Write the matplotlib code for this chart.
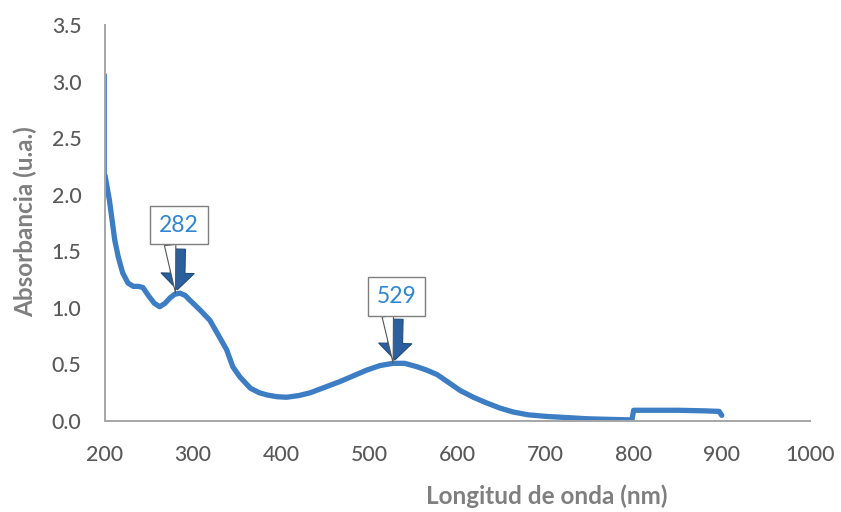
import numpy as np
import matplotlib
matplotlib.use("Agg")
import matplotlib.pyplot as plt

plt.rcParams['font.family'] = ['Lato', 'DejaVu Sans']

# sharp rise at the start of the scan (drawn thin)
spike_nm = [200, 200]
spike_abs = [3.07, 2.17]

# UV-Vis spectrum
wavelength = [200, 205, 211, 215, 220, 226, 232, 238, 243, 250, 256, 262, 268, 274,
              279, 285, 291, 296, 308, 319, 330, 338, 345, 353, 365, 375, 384, 395,
              406, 420, 433, 450, 467, 482, 497, 512, 527, 540, 554, 565, 577, 590,
              603, 618, 633, 648, 663, 680, 702, 725, 747, 770, 798, 800, 803, 850,
              880, 897, 900]
absorbance = [2.17, 1.95, 1.60, 1.45, 1.31, 1.22, 1.19, 1.19, 1.18, 1.10, 1.04, 1.01,
              1.04, 1.09, 1.12, 1.13, 1.11, 1.07, 0.98, 0.89, 0.74, 0.63, 0.48, 0.39,
              0.29, 0.25, 0.23, 0.215, 0.21, 0.225, 0.25, 0.30, 0.35, 0.40, 0.45, 0.49,
              0.51, 0.51, 0.48, 0.45, 0.41, 0.34, 0.27, 0.21, 0.16, 0.115, 0.08, 0.055,
              0.04, 0.03, 0.02, 0.015, 0.01, 0.095, 0.095, 0.095, 0.09, 0.085, 0.05]

# labelled peaks
peak_nm = [282, 529]
peak_abs = [1.15, 0.53]

xticks = [200, 300, 400, 500, 600, 700, 800, 900, 1000]
yticks = [0.0, 0.5, 1.0, 1.5, 2.0, 2.5, 3.0, 3.5]

line_col = '#3C7DC4'
grey = '#595959'

fig = plt.figure(figsize=(8.41, 5.12), dpi=100)
ax = fig.add_axes([0.1249, 0.1777, 0.8381, 0.7734])

ax.plot(spike_nm, spike_abs, color=line_col, lw=2.0, solid_capstyle='round')
ax.plot(wavelength, absorbance, color=line_col, lw=3.8,
        solid_capstyle='round', solid_joinstyle='round')

ax.set_xlim(200, 1000)
ax.set_ylim(0, 3.5)
ax.set_xticks(xticks)
ax.set_yticks(yticks)
ax.set_yticklabels([f'{v:.1f}' for v in yticks])
ax.tick_params(length=0, labelsize=15.3, labelcolor=grey, pad=17)
for lab in ax.get_xticklabels() + ax.get_yticklabels():
    lab.set_fontweight('medium')

for s in ['top', 'right']:
    ax.spines[s].set_visible(False)
for s in ['left', 'bottom']:
    ax.spines[s].set_color('#a6a6a6')
    ax.spines[s].set_linewidth(1.4)

ax.set_xlabel('Longitud de onda (nm)', fontsize=17.5, fontweight='bold', color='#7f7f7f',
              va='center')
ax.set_ylabel('Absorbancia (u.a.)', fontsize=17.5, fontweight='bold', color='#7f7f7f',
              va='center')
ax.xaxis.set_label_coords(0.627, -0.19)
ax.yaxis.set_label_coords(-0.1135, 0.504)

# callout boxes + dark arrows pointing at the peaks
box_offset = [0.58, 0.57]
for nm, a, off in zip(peak_nm, peak_abs, box_offset):
    ax.annotate('', xy=(nm, a + 0.01), xytext=(nm + 1, a + 0.37),
                arrowprops=dict(arrowstyle='simple,head_length=0.85,head_width=1.7,tail_width=0.75',
                                mutation_scale=14, fc='#2B5F9E', ec='#1F4E79', lw=0.8,
                                shrinkA=0, shrinkB=0))
    ax.annotate(str(nm), xy=(nm - 2, a - 0.02), xytext=(nm + 2, a + off),
                ha='center', va='center', fontsize=16.5, color='#2E86D4',
                bbox=dict(boxstyle='square,pad=0.38', fc='white', ec='#7f7f7f', lw=1.0),
                arrowprops=dict(arrowstyle='wedge,tail_width=0.5,shrink_factor=0.5',
                                fc='white', ec='#555555', lw=0.8,
                                relpos=(0.25, 0.0), shrinkA=0, shrinkB=0))

fig.savefig('out.png', dpi=100)
